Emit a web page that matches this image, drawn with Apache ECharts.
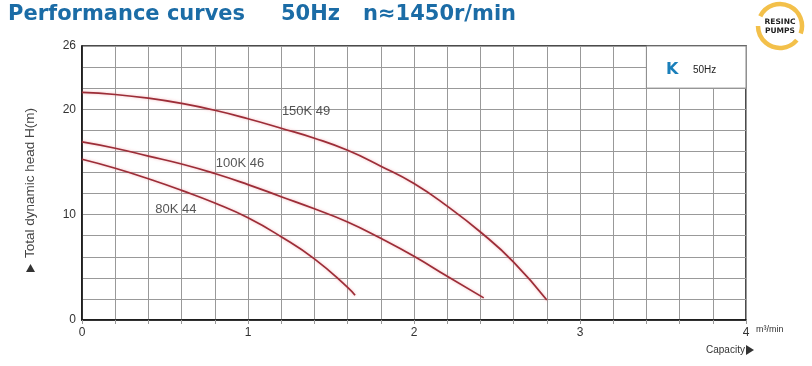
<!DOCTYPE html>
<html>
<head>
<meta charset="utf-8">
<script src="https://cdn.jsdelivr.net/npm/echarts@6/dist/echarts.min.js"></script>
<style>html,body{margin:0;padding:0;background:#fff}#c{width:812px;height:366px}</style>
</head>
<body>
<div id="c"></div>
<script>
// ---- data ----
var q150 = [0, 0.2, 0.4, 0.6, 0.8, 1.0, 1.2, 1.4, 1.6, 1.8, 2.0, 2.2, 2.4, 2.6, 2.8];
var h150 = [21.6, 21.4, 21.05, 20.55, 19.9, 19.1, 18.2, 17.25, 16.1, 14.6, 12.95, 10.8, 8.35, 5.5, 1.9];
var q100 = [0, 0.2, 0.4, 0.6, 0.8, 1.0, 1.2, 1.4, 1.6, 1.8, 2.0, 2.2, 2.42];
var h100 = [16.9, 16.3, 15.55, 14.8, 13.9, 12.85, 11.7, 10.55, 9.3, 7.75, 6.05, 4.15, 2.1];
var q80 = [0, 0.2, 0.4, 0.6, 0.8, 1.0, 1.2, 1.4, 1.6, 1.645];
var h80 = [15.25, 14.4, 13.4, 12.3, 11.1, 9.7, 7.9, 5.8, 3.1, 2.35];
var curveNames = ['150K 49', '100K 46', '80K 44'];
var labelQ = [1.35, 0.952, 0.566];
var labelH = [19.83, 14.9, 10.53];
var xTickLabels = [0, 1, 2, 3, 4];
var yTickLabels = [0, 10, 20, 26];

function zip(a, b) { return a.map(function (v, i) { return [v, b[i]]; }); }
var curveColor = '#9c2d37';
function curve(name, q, h) {
  return {
    name: name, type: 'line', data: zip(q, h), smooth: 0.5, showSymbol: false, symbol: 'none',
    lineStyle: { color: curveColor, width: 1.7, shadowColor: 'rgba(235,120,130,0.55)', shadowBlur: 3 },
    silent: true, z: 3
  };
}
function near(v, arr) { return arr.some(function (t) { return Math.abs(v - t) < 1e-6; }); }

var chart = echarts.init(document.getElementById('c'), null, { renderer: 'canvas' });
var titleFont = 'bold 21px "DejaVu Sans"';
var titleColor = '#1b6ca6';
chart.setOption({
  animation: false,
  backgroundColor: '#fff',
  grid: { left: 82, right: 66, top: 46, bottom: 46, show: true, borderColor: '#111', borderWidth: 1.5, backgroundColor: '#fff' },
  xAxis: {
    type: 'value', min: 0, max: 4, interval: 0.2,
    axisLine: { show: true, lineStyle: { color: '#111', width: 1.5 } },
    axisTick: { show: true, length: 4, lineStyle: { color: '#999' } },
    splitLine: { show: true, lineStyle: { color: '#999', width: 1 } },
    axisLabel: {
      color: '#333', fontFamily: 'Liberation Sans', fontSize: 12, margin: 7,
      formatter: function (v) { return near(v, xTickLabels) ? String(Math.round(v)) : ''; }
    }
  },
  yAxis: {
    type: 'value', min: 0, max: 26, interval: 2,
    name: 'Total dynamic head H(m)', nameLocation: 'middle', nameGap: 45, nameRotate: 90,
    nameTextStyle: { color: '#444', fontFamily: 'Liberation Sans', fontSize: 13.5 },
    axisLine: { show: true, lineStyle: { color: '#111', width: 1.5 } },
    axisTick: { show: false },
    splitLine: { show: true, lineStyle: { color: '#999', width: 1 } },
    axisLabel: {
      color: '#333', fontFamily: 'Liberation Sans', fontSize: 12, margin: 6,
      formatter: function (v) { return near(v, yTickLabels) ? String(Math.round(v)) : ''; }
    }
  },
  series: [
    curve(curveNames[0], q150, h150),
    curve(curveNames[1], q100, h100),
    curve(curveNames[2], q80, h80),
    {
      type: 'scatter', symbolSize: 0, silent: true, z: 4,
      data: labelQ.map(function (q, i) { return { value: [q, labelH[i]], name: curveNames[i] }; }),
      label: {
        show: true, position: 'inside', formatter: function (p) { return p.name; },
        color: '#2a2a2a', fontFamily: 'Liberation Sans', fontSize: 13
      },
      markArea: {
        silent: true,
        itemStyle: { color: '#fff', borderColor: '#888', borderWidth: 1 },
        data: [[{ coord: [3.4, 26] }, { coord: [4, 22] }]]
      }
    }
  ],
  graphic: [
    { type: 'text', style: { x: 8, y: 15, text: 'Performance curves', font: titleFont, fill: titleColor, verticalAlign: 'middle' } },
    { type: 'text', style: { x: 281, y: 15, text: '50Hz', font: titleFont, fill: titleColor, verticalAlign: 'middle' } },
    { type: 'text', style: { x: 363, y: 15, text: 'n\u22481450r/min', font: titleFont, fill: titleColor, verticalAlign: 'middle' } },
    // K 50Hz legend
    { type: 'text', z: 10, style: { x: 666, y: 70, text: 'K', font: 'bold 16px "DejaVu Sans"', fill: '#1a7fba', verticalAlign: 'middle' } },
    { type: 'text', z: 10, style: { x: 693, y: 70, text: '50Hz', font: '10px "Liberation Sans"', fill: '#222', verticalAlign: 'middle' } },
    // axis annotations
    { type: 'text', style: { x: 756, y: 330, text: 'm\u00b3/min', font: '9px "Liberation Sans"', fill: '#333', verticalAlign: 'middle' } },
    { type: 'text', style: { x: 706, y: 350, text: 'Capacity', font: '10px "Liberation Sans"', fill: '#333', verticalAlign: 'middle' } },
    { type: 'polygon', shape: { points: [[746, 345], [746, 355], [754, 350]] }, style: { fill: '#333' } },
    { type: 'polygon', shape: { points: [[26, 272], [35, 272], [30.5, 264]] }, style: { fill: '#333' } },
    // logo
    { type: 'arc', shape: { cx: 780, cy: 26, r: 22, startAngle: 3.6, endAngle: 6.63, clockwise: true }, style: { stroke: '#f3c04a', lineWidth: 4.5, fill: null } },
    { type: 'arc', shape: { cx: 780, cy: 26, r: 22, startAngle: 0.7, endAngle: 3.14, clockwise: true }, style: { stroke: '#f3c04a', lineWidth: 4.5, fill: null } },
    { type: 'text', style: { x: 780, y: 22, text: 'RESINC', font: 'bold 7.5px "DejaVu Sans"', fill: '#222', align: 'center', verticalAlign: 'middle' } },
    { type: 'text', style: { x: 780, y: 31, text: 'PUMPS', font: 'bold 7.5px "DejaVu Sans"', fill: '#222', align: 'center', verticalAlign: 'middle' } }
  ]
});
</script>
</body>
</html>
